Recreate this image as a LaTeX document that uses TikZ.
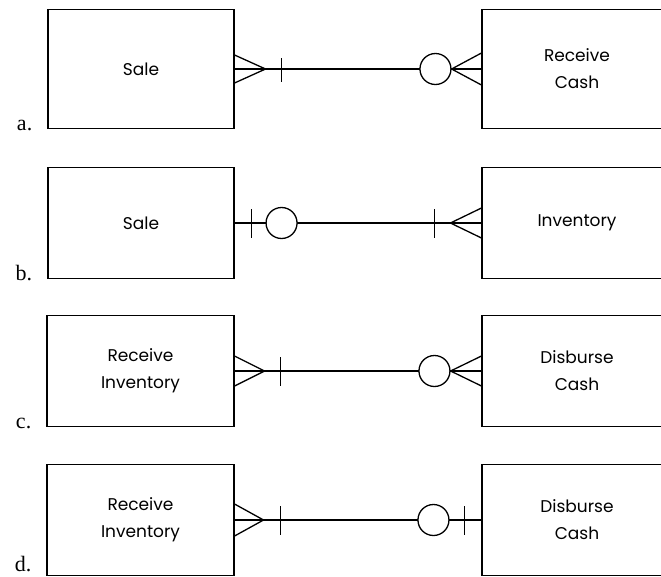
\documentclass[tikz,border=0pt]{standalone}
\usepackage{fontspec}
\newfontfamily\boxfont{Poppins}
\newfontfamily\labelfont{Liberation Serif}
\usetikzlibrary{calc}
\tikzstyle{entity}=[draw,rectangle,line width=1.1pt,inner sep=0pt,align=center,font=\boxfont\fontsize{17}{27}\selectfont]
\tikzstyle{link}=[draw,line width=1.3pt]
\tikzstyle{zero}=[circle,draw,fill=white,line width=1.3pt,minimum size=31pt,inner sep=0pt]
\tikzstyle{rowlabel}=[font=\labelfont\fontsize{22}{22}\selectfont,anchor=base east,inner sep=0pt]

\begin{document}
\begin{tikzpicture}[x=1pt,y=-1pt]
    \clip (0,0) rectangle (661,576);
    % First we draw the entities
    \foreach \pos/\name/\w/\h/\txt in {{(141,69)/sale1/186/119/Sale}, {(577,69)/cash1/190/119/{Receive\\Cash}},
        {(141,223)/sale2/186/111/Sale}, {(577,223)/inv2/190/111/Inventory},
        {(140.5,371)/rinv3/187/111/{Receive\\Inventory}}, {(577,371)/cash3/190/111/{Disburse\\Cash}},
        {(140.5,520)/rinv4/187/111/{Receive\\Inventory}}, {(577,520)/cash4/190/111/{Disburse\\Cash}}}
        \node[entity,minimum width=\w pt,minimum height=\h pt] (\name) at \pos {\txt};

    % Row labels
    \foreach \name/\txt/\dy in {sale1/a./-1, sale2/b./-1, rinv3/c./-1, rinv4/d./5}
        \node[rowlabel] (lab\name) at ([xshift=-15pt,yshift=\dy pt]\name.south west) {\txt};

    % Connect entities
    \foreach \source/\dest in {sale1/cash1, sale2/inv2, rinv3/cash3, rinv4/cash4}
        \path[link] (\source) -- (\dest);

    % a. many and one - zero or many
    \draw[link] ([yshift=14pt]sale1.east) -- ([xshift=31pt]sale1.east) -- ([yshift=-14pt]sale1.east);
    \draw[link] ([xshift=47pt,yshift=11pt]sale1.east) -- ([xshift=47pt,yshift=-13pt]sale1.east);
    \node[zero] (o1) at ([xshift=-46pt]cash1.west) {};
    \draw[link] ([yshift=16pt]cash1.west) -- (o1.east) -- ([yshift=-16pt]cash1.west);

    % b. zero or one - one or many
    \draw[link] ([xshift=17pt,yshift=14pt]sale2.east) -- ([xshift=17pt,yshift=-15pt]sale2.east);
    \node[zero] (o2) at ([xshift=47pt]sale2.east) {};
    \draw[link] ([xshift=-47pt,yshift=14pt]inv2.west) -- ([xshift=-47pt,yshift=-15pt]inv2.west);
    \draw[link] ([yshift=15pt]inv2.west) -- ([xshift=-31pt]inv2.west) -- ([yshift=-15pt]inv2.west);

    % c. many and one - zero or many
    \draw[link] ([yshift=15pt]rinv3.east) -- ([xshift=30pt]rinv3.east) -- ([yshift=-15pt]rinv3.east);
    \draw[link] ([xshift=46pt,yshift=14pt]rinv3.east) -- ([xshift=46pt,yshift=-15pt]rinv3.east);
    \node[zero] (o3) at ([xshift=-47pt]cash3.west) {};
    \draw[link] ([yshift=15pt]cash3.west) -- (o3.east) -- ([yshift=-15pt]cash3.west);

    % d. many and one - zero or one
    \draw[link] ([yshift=16pt]rinv4.east) -- ([xshift=29pt]rinv4.east) -- ([yshift=-16pt]rinv4.east);
    \draw[link] ([xshift=46pt,yshift=14pt]rinv4.east) -- ([xshift=46pt,yshift=-15pt]rinv4.east);
    \node[zero] (o4) at ([xshift=-48pt]cash4.west) {};
    \draw[link] ([xshift=-17pt,yshift=14pt]cash4.west) -- ([xshift=-17pt,yshift=-15pt]cash4.west);
\end{tikzpicture}
\end{document}
